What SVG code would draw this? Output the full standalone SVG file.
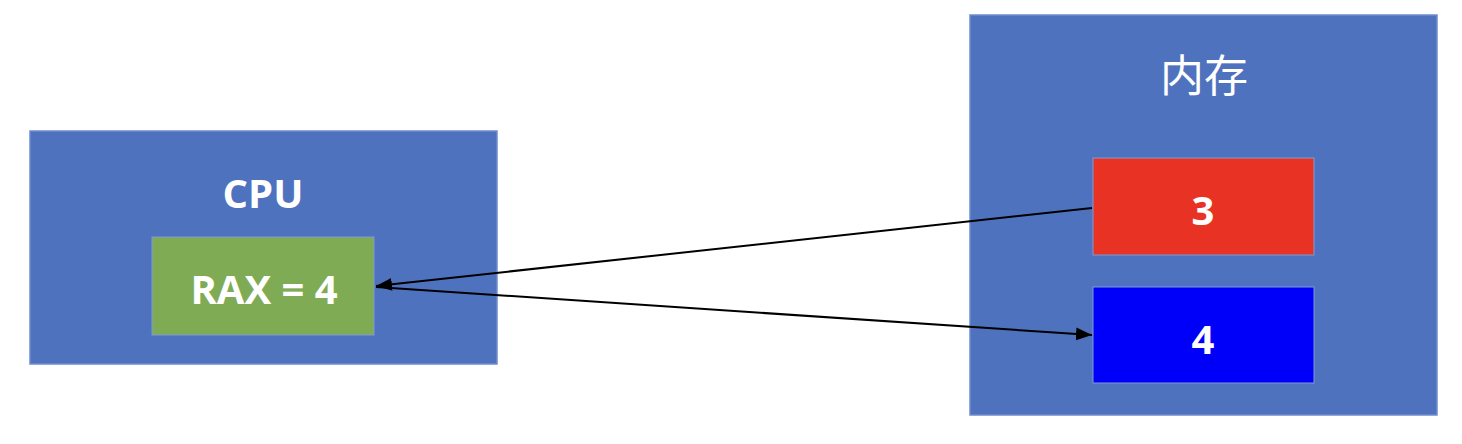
<svg xmlns="http://www.w3.org/2000/svg" width="1462" height="444" viewBox="0 0 1462 444">
<style>
.box{fill:#4F72BE;stroke:#6F8CCB;stroke-width:1.5}
.inner{stroke:#7E9AD6;stroke-width:1}
.t{font-family:"Open Sans","Liberation Sans","Noto Sans CJK SC",sans-serif;fill:#fff;text-anchor:middle;font-weight:bold}
.cjk{font-family:"Noto Sans CJK SC",sans-serif;fill:#fff;text-anchor:middle;font-weight:normal}
.ln{stroke:#000;stroke-width:2;fill:none}
</style>
<defs>
<marker id="ah2" viewBox="0 0 10 10" refX="10" refY="5" markerWidth="16" markerHeight="16" markerUnits="userSpaceOnUse" orient="auto">
<path d="M0,1 L10,5 L0,9 Z" fill="#000"/>
</marker>
</defs>
<rect width="1462" height="444" fill="#fff"/>
<g id="cpu">
<rect class="box" x="30" y="131" width="467" height="233"/>
<text class="t" x="263" y="208" font-size="40">CPU</text>
</g>
<g id="rax">
<rect class="inner" x="152" y="237" width="222" height="98" fill="#7FAB55"/>
<text class="t" x="264" y="304" font-size="40">RAX = 4</text>
</g>
<g id="memory">
<rect class="box" x="970" y="15" width="467" height="400"/>
<text class="cjk" x="1204" y="92" font-size="44">内存</text>
</g>
<g id="mem3">
<rect class="inner" x="1093" y="158" width="221" height="97" fill="#E83324"/>
<text class="t" x="1203" y="225" font-size="40">3</text>
</g>
<g id="mem4">
<rect class="inner" x="1093" y="287" width="221" height="96" fill="#0000FA"/>
<text class="t" x="1203" y="354" font-size="40">4</text>
</g>
<g id="connectors">
<line class="ln" x1="1092" y1="208" x2="376" y2="286" marker-end="url(#ah2)"/>
<line class="ln" x1="376" y1="287" x2="1092" y2="335" marker-end="url(#ah2)"/>
</g>
</svg>
